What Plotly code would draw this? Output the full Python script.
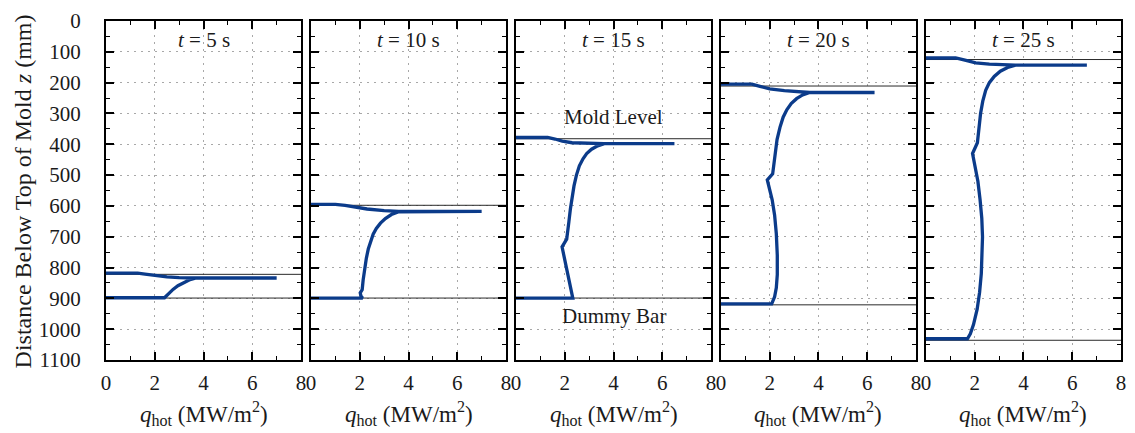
import plotly.graph_objects as go

# ---- data -------------------------------------------------------------
times = [5, 10, 15, 20, 25]
mold_level = [822, 598, 382, 211, 125]     # mm below top of mold
dummy_bar = [899, 899, 899, 921, 1036]     # mm below top of mold

# hot-face heat flux profiles (MW/m^2) vs distance below top of mold (mm)
q_5s = [0, 1.3, 1.6, 2.0, 2.5, 3.0, 3.6, 7.0, 3.7, 3.45, 3.2, 2.95, 2.75, 2.55, 2.4, 0]
z_5s = [818, 818, 821, 826, 830, 833, 834, 834, 834, 839, 848, 859, 871, 886, 898, 898]

q_10s = [0, 1.0, 1.4, 1.8, 2.3, 3.0, 3.6, 7.0, 3.6, 3.3, 3.05, 2.85, 2.68, 2.55, 2.45, 2.35,
         2.27, 2.2, 2.14, 2.1, 2.02, 2.05, 2.12, 0]
z_10s = [595, 595, 598, 604, 610, 615, 618, 618, 619, 628, 641, 656, 673, 692, 714, 740,
         770, 803, 840, 872, 882, 893, 899, 899]

q_15s = [0, 1.3, 1.6, 1.9, 2.3, 3.0, 3.6, 6.5, 3.62, 3.35, 3.1, 2.9, 2.75, 2.6, 2.48, 2.38,
         2.3, 2.23, 2.17, 2.12, 2.08, 1.89, 1.98, 2.1, 2.22, 2.33, 0]
z_15s = [378, 378, 383, 390, 395, 397, 398, 398, 398, 405, 416, 430, 447, 470, 500, 535,
         572, 611, 652, 690, 708, 733, 768, 810, 855, 899, 899]

q_20s = [0, 1.27, 1.6, 2.0, 2.6, 3.2, 3.64, 6.3, 3.64, 3.35, 3.1, 2.88, 2.7, 2.55, 2.42, 2.3,
         2.22, 2.16, 2.12, 1.9, 2.0, 2.1, 2.2, 2.27, 2.31, 2.31, 2.27, 2.2, 2.08, 0]
z_20s = [205, 205, 212, 220, 226, 230, 232, 232, 232, 240, 252, 268, 288, 312, 345, 385,
         430, 470, 496, 516, 545, 580, 630, 690, 760, 823, 866, 895, 918, 918]

q_25s = [0, 1.22, 1.6, 2.04, 2.6, 3.2, 3.67, 6.6, 3.67, 3.35, 3.05, 2.8, 2.6, 2.45, 2.33, 2.24,
         2.17, 2.11, 1.91, 2.02, 2.13, 2.22, 2.29, 2.32, 2.31, 2.27, 2.2, 2.1, 1.95, 1.82, 1.7, 0]
z_25s = [120, 120, 127, 136, 140, 142, 143, 143, 143, 151, 163, 180, 200, 225, 260, 300,
         345, 395, 430, 470, 520, 580, 640, 700, 760, 820, 880, 935, 985, 1015, 1031, 1031]

profiles = [(q_5s, z_5s), (q_10s, z_10s), (q_15s, z_15s), (q_20s, z_20s), (q_25s, z_25s)]

x_ticks = [0, 2, 4, 6, 8]
y_ticks = list(range(0, 1101, 100))

# ---- layout geometry ----------------------------------------------------
W, H = 1135, 433
ML, MR, MT, MB = 106, 9, 15, 73
plot_w = W - ML - MR
plot_h = H - MT - MB
panel_w, gap = 196, 10

SERIF = "Liberation Serif, Times New Roman, serif"
LINE_BLUE = "#0b3b8a"
TXT = dict(family=SERIF, size=21, color="#1a1a1a")


def py(ypix):
    """pixel row -> paper y"""
    return 1 - (ypix - MT) / plot_h


fig = go.Figure()
layout_axes = {}
annotations = []

for i, (t, (q, z)) in enumerate(zip(times, profiles)):
    n = "" if i == 0 else str(i + 1)
    x0 = (i * (panel_w + gap)) / plot_w
    x1 = (i * (panel_w + gap) + panel_w) / plot_w
    xa, ya = f"x{n}", f"y{n}"

    # reference lines for mold level and dummy bar
    for level in (mold_level[i], dummy_bar[i]):
        fig.add_trace(go.Scatter(x=[0, 8], y=[level, level], mode="lines",
                                 line=dict(color="#2a2a2a", width=1),
                                 xaxis=xa, yaxis=ya, showlegend=False, hoverinfo="skip"))

    fig.add_trace(go.Scatter(x=q, y=z, mode="lines",
                             line=dict(color=LINE_BLUE, width=3.3),
                             xaxis=xa, yaxis=ya, showlegend=False))

    common = dict(showline=True, linecolor="black", linewidth=2, mirror="allticks",
                  ticks="inside", ticklen=8, tickwidth=1.5, tickcolor="black",
                  showgrid=True, gridcolor="#a8a8a8", griddash="2px,5px", gridwidth=1.2,
                  zeroline=False, tickfont=TXT)

    layout_axes[f"xaxis{n}"] = dict(common, domain=[x0, x1], range=[0, 8], anchor=ya,
                                    tickvals=x_ticks, ticktext=[str(v) for v in x_ticks],
                                    ticklabelstandoff=3,
                                    minor=dict(dtick=1, ticklen=4, tickwidth=1.2,
                                               tickcolor="black", ticks="inside"))
    layout_axes[f"yaxis{n}"] = dict(common, domain=[0, 1], range=[1100, 0], anchor=xa,
                                    tickvals=y_ticks, ticktext=[str(v) for v in y_ticks],
                                    showticklabels=(i == 0), ticklabelstandoff=19,
                                    minor=dict(dtick=50, ticklen=4, tickwidth=1.2,
                                               tickcolor="black", ticks="inside"))

    xc = (x0 + x1) / 2
    annotations.append(dict(text=f"<i>t</i> = {t} s", x=xc, y=py(34), xref="paper", yref="paper",
                            xanchor="center", yanchor="middle", showarrow=False, font=TXT))
    annotations.append(dict(text="<i>q</i><sub>hot</sub> (MW/m<sup>2</sup>)", x=xc, y=py(414),
                            xref="paper", yref="paper", xanchor="center", yanchor="middle",
                            showarrow=False, font=dict(TXT, size=23)))

    if i == 2:
        annotations.append(dict(text="Mold Level", x=xc, y=py(113), xref="paper", yref="paper",
                                xanchor="center", yanchor="middle", showarrow=False, font=TXT))
        annotations.append(dict(text="Dummy Bar", x=xc, y=py(315), xref="paper", yref="paper",
                                xanchor="center", yanchor="middle", showarrow=False, font=TXT))

annotations.append(dict(text="Distance Below Top of Mold <i>z</i> (mm)", textangle=-90,
                        x=-(ML - 23) / plot_w, y=py(188), xref="paper", yref="paper",
                        xanchor="center", yanchor="middle", showarrow=False,
                        font=dict(TXT, size=24)))

fig.update_layout(width=W, height=H, margin=dict(l=ML, r=MR, t=MT, b=MB),
                  plot_bgcolor="white", paper_bgcolor="white",
                  annotations=annotations, **layout_axes)

fig.write_html("out.html")
